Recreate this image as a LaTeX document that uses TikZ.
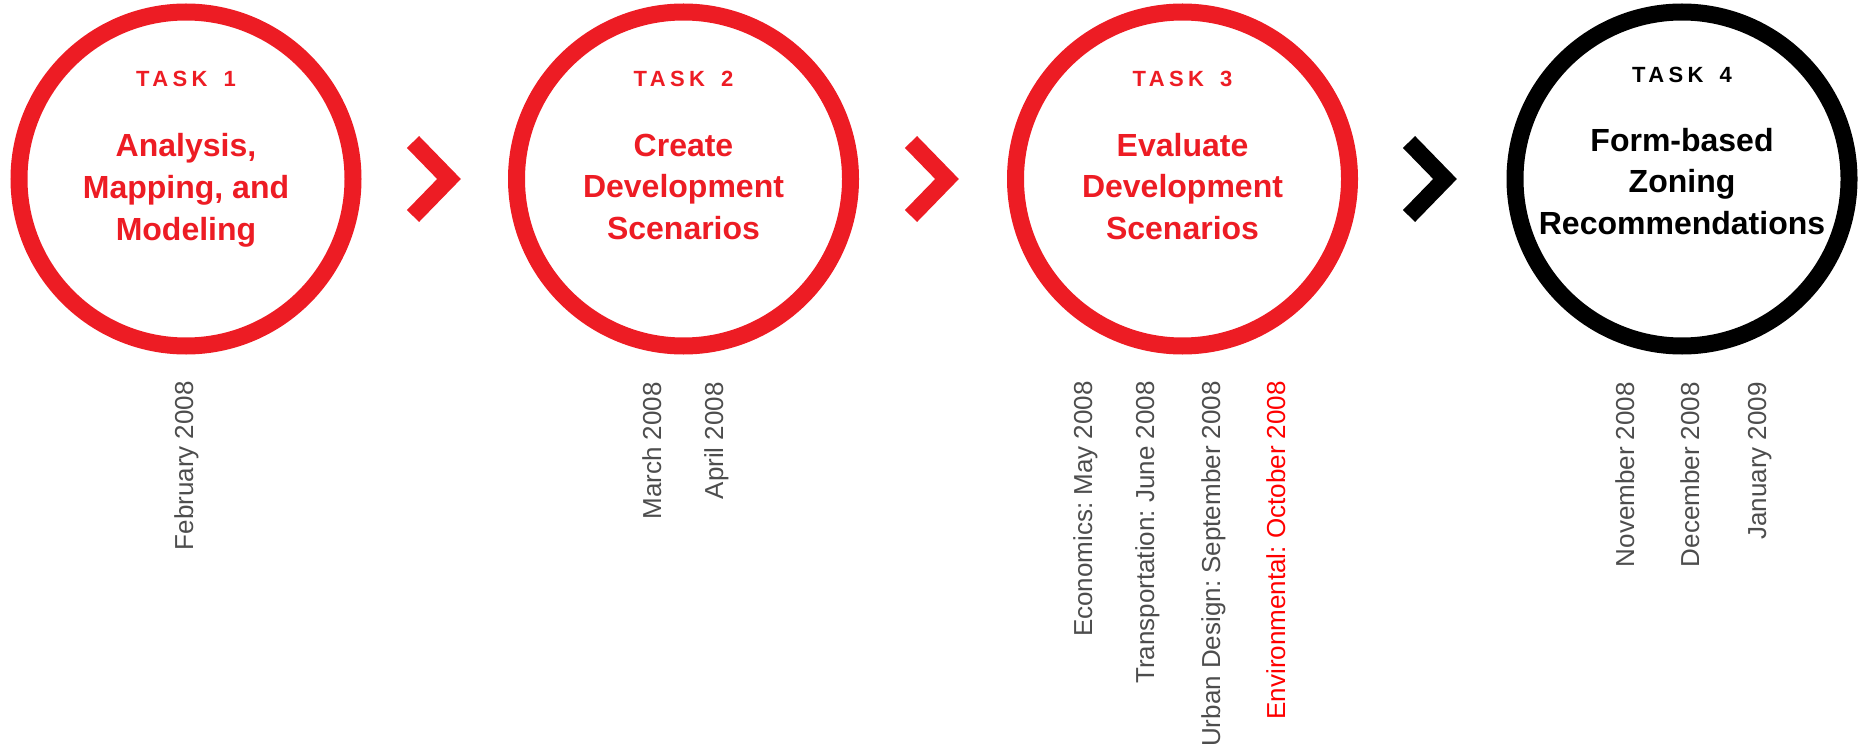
\documentclass[tikz,border=0pt]{standalone}
\usepackage{fontspec}
\setmainfont{Liberation Sans}
\usetikzlibrary{positioning}
\definecolor{taskred}{RGB}{237,28,36}
\definecolor{dategray}{RGB}{77,77,77}
\definecolor{envred}{RGB}{255,0,0}
\tikzset{
  ring/.style={circle, draw, line width=17pt, minimum size=334pt, inner sep=0pt},
  tasktag/.style={font=\fontsize{22}{26}\selectfont\bfseries\addfontfeature{LetterSpace=20}, anchor=base, inner sep=0pt},
  taskname/.style={font=\fontsize{32}{41.5}\selectfont\bfseries, align=center, anchor=base, inner sep=0pt},
  datelabel/.style={font=\fontsize{26}{30}\selectfont, text=dategray, rotate=90, anchor=base east, inner sep=0pt},
  chevron/.style={line width=17pt, miter limit=10}
}

\begin{document}
\frenchspacing
\begin{tikzpicture}[x=1pt,y=-1pt]
\useasboundingbox (0,0) rectangle (1859,754);
% rings
\node[ring, draw=taskred] (ring1) at (186,179) {};
\node[ring, draw=taskred] (ring2) at (683.5,179) {};
\node[ring, draw=taskred] (ring3) at (1182.5,179) {};
\node[ring, draw=black] (ring4) at (1682,179) {};
% task titles (base = last line)
\node[tasktag, text=taskred] (tag1) at (186,87) {TASK\hspace{16pt}1};
\node[taskname, text=taskred] (name1) at (186,240) {Analysis,\\Mapping, and\\Modeling};
\node[tasktag, text=taskred] (tag2) at (683.5,87) {TASK\hspace{16pt}2};
\node[taskname, text=taskred] (name2) at (683.5,239) {Create\\Development\\Scenarios};
\node[tasktag, text=taskred] (tag3) at (1182.5,87) {TASK\hspace{16pt}3};
\node[taskname, text=taskred] (name3) at (1182.5,239) {Evaluate\\Development\\Scenarios};
\node[tasktag] (tag4) at (1682,83) {TASK\hspace{16pt}4};
\node[taskname] (name4) at (1682,234) {Form-based\\Zoning\\Recommendations};
% chevrons
\draw[chevron, taskred] (413,142) -- (449,179) -- (413,216);
\draw[chevron, taskred] (911,142) -- (947,179) -- (911,216);
\draw[chevron, black] (1409,142) -- (1445,179) -- (1409,216);
% dates
\node[datelabel] (feb) at (193,381) {February 2008};
\node[datelabel] (mar) at (661,382) {March 2008};
\node[datelabel] (apr) at (723,382) {April 2008};
\node[datelabel] (may) at (1092,381) {Economics: May 2008};
\node[datelabel] (jun) at (1154,381) {Transportation: June 2008};
\node[datelabel] (sep) at (1220,381) {Urban Design: September 2008};
\node[datelabel, text=envred] (oct) at (1285,381) {Environmental: October 2008};
\node[datelabel] (nov) at (1634,382) {November 2008};
\node[datelabel] (dec) at (1699,382) {December 2008};
\node[datelabel] (jan) at (1766,382) {January 2009};
\end{tikzpicture}
\end{document}
